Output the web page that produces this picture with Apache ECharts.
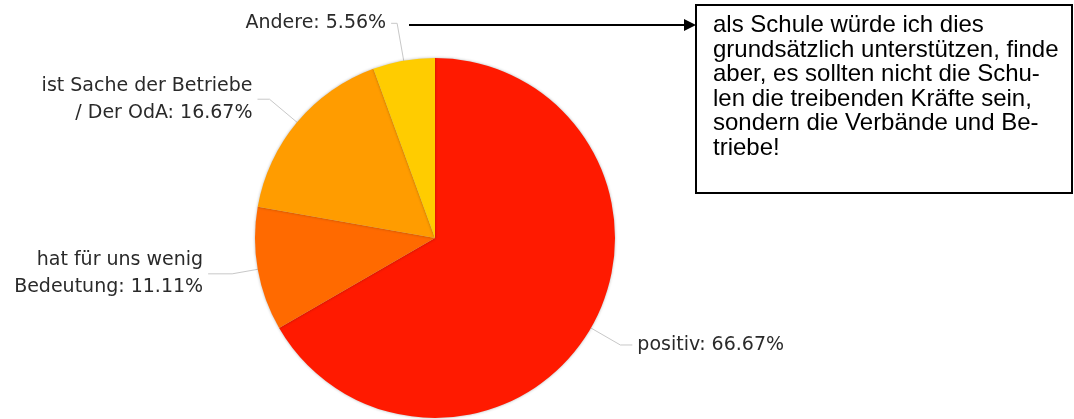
<!DOCTYPE html>
<html>
<head>
<meta charset="utf-8">
<script src="https://cdn.jsdelivr.net/npm/echarts@6/dist/echarts.min.js"></script>
<style>
html,body{margin:0;padding:0;background:#fff;}
#chart{width:1074px;height:419px;}
</style>
</head>
<body>
<div id="chart"></div>
<script>
const categories = ['positiv', 'hat für uns wenig\nBedeutung', 'ist Sache der Betriebe\n/ Der OdA', 'Andere'];
const percentValues = [66.67, 11.11, 16.67, 5.56];
const sliceColors = ['#ff1a00', '#ff6a00', '#ff9c00', '#ffcc00'];
const noteLines = [
  'als Schule würde ich dies',
  'grundsätzlich unterstützen, finde',
  'aber, es sollten nicht die Schu-',
  'len die treibenden Kräfte sein,',
  'sondern die Verbände und Be-',
  'triebe!'
];
const lineLengths = [[34, 12], [26, 24], [36, 12], [38, 6]];

const chart = echarts.init(document.getElementById('chart'), null, {renderer: 'canvas'});
const data = categories.map((c, i) => ({
  name: c,
  value: percentValues[i],
  itemStyle: {color: sliceColors[i]},
  labelLine: {length: lineLengths[i][0], length2: lineLengths[i][1]}
}));

chart.setOption({
  backgroundColor: '#ffffff',
  animation: false,
  series: [{
    type: 'pie',
    center: [435, 238],
    radius: 180,
    startAngle: 90,
    clockwise: true,
    avoidLabelOverlap: false,
    data: data,
    itemStyle: {borderWidth: 0, shadowBlur: 3, shadowColor: 'rgba(0,0,0,0.3)'},
    label: {
      show: true,
      formatter: p => p.name + ': ' + p.value.toFixed(2) + '%',
      fontFamily: 'DejaVu Sans',
      fontSize: 19,
      lineHeight: 27,
      color: '#2a2a2a'
    },
    labelLine: {
      show: true,
      lineStyle: {color: '#c8c8c8', width: 1}
    },
    emphasis: {disabled: true}
  }],
  graphic: [
    {
      type: 'line',
      shape: {x1: 409, y1: 25, x2: 686, y2: 25},
      style: {stroke: '#000', lineWidth: 2}
    },
    {
      type: 'polygon',
      shape: {points: [[684, 19], [696, 25], [684, 31]]},
      style: {fill: '#000'}
    },
    {
      type: 'rect',
      shape: {x: 696, y: 5, width: 376, height: 188},
      style: {fill: '#fff', stroke: '#000', lineWidth: 2}
    },
    {
      type: 'text',
      x: 713,
      y: 13,
      style: {
        text: noteLines.join('\n'),
        font: '24px "Liberation Sans", Arial, sans-serif',
        lineHeight: 24.6,
        fill: '#000',
        textAlign: 'left',
        textVerticalAlign: 'top'
      }
    }
  ]
});
</script>
</body>
</html>
